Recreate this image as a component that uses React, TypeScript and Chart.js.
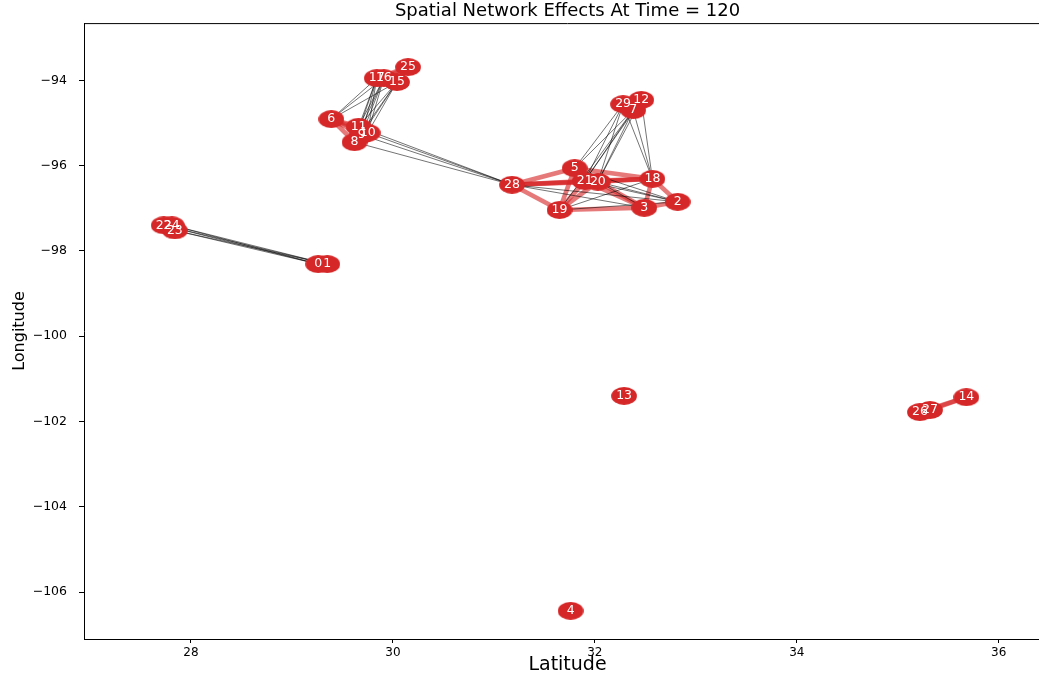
import React, { useEffect, useRef } from "react";
import { Chart, registerables } from "chart.js";

Chart.register(...registerables);

// ---- data ----
const nodeIds = [
  0, 1, 2, 3, 4, 5, 6, 7, 8, 9, 10, 11, 12, 13, 14,
  15, 16, 17, 18, 19, 20, 21, 22, 23, 24, 25, 26, 27, 28, 29,
];
// latitude (x axis)
const nodeLat = [
  29.26, 29.35, 32.82, 32.49, 31.76, 31.8, 29.39, 32.38, 29.62, 29.69,
  29.75, 29.66, 32.46, 32.29, 35.68, 30.04, 29.91, 29.84, 32.57, 31.65,
  32.03, 31.9, 27.73, 27.84, 27.81, 30.15, 35.22, 35.32, 31.18, 32.28,
];
// longitude (y axis)
const nodeLon = [
  -98.31, -98.31, -96.85, -96.99, -106.44, -96.06, -94.91, -94.7, -95.45, -95.28,
  -95.23, -95.09, -94.46, -101.4, -101.43, -94.04, -93.95, -93.95, -96.31, -97.04,
  -96.38, -96.36, -97.4, -97.52, -97.4, -93.69, -101.78, -101.73, -96.45, -94.56,
];

// strong (red) links
const redEdges: [number, number][] = [
  [6, 11], [6, 8], [6, 9], [6, 10], [11, 8], [11, 9], [11, 10], [8, 9], [8, 10], [9, 10],
  [17, 16], [17, 15], [16, 15], [15, 25], [16, 25], [17, 25],
  [28, 5], [28, 21], [28, 20], [28, 18], [28, 19],
  [5, 21], [5, 20], [5, 18], [21, 20], [21, 18], [20, 18],
  [19, 21], [19, 20], [19, 5], [19, 3], [20, 3], [21, 3],
  [18, 3], [18, 2], [3, 2],
  [29, 7], [29, 12], [7, 12],
  [22, 24], [22, 23], [24, 23], [0, 1],
  [26, 27], [27, 14], [26, 14],
];

// weak (grey) links
const greyEdges: [number, number][] = [
  [6, 17], [6, 16], [6, 15],
  [11, 17], [11, 16], [11, 15], [10, 17], [10, 16], [10, 15],
  [9, 17], [9, 16], [9, 15], [8, 17], [8, 16], [8, 15],
  [11, 28], [10, 28], [9, 28], [8, 28],
  [29, 5], [7, 5], [29, 21], [7, 21], [12, 21], [29, 20], [7, 20], [12, 20],
  [7, 19], [29, 18], [7, 18], [12, 18],
  [28, 3], [28, 2], [19, 18], [19, 2], [21, 2], [20, 2], [5, 3], [5, 2],
  [22, 0], [22, 1], [24, 0], [24, 1], [23, 0], [23, 1],
];

const xTickValues = [28, 30, 32, 34, 36];
const yTickValues = [-94, -96, -98, -100, -102, -104, -106];

const titleText = "Spatial Network Effects At Time = 120";
const xLabel = "Latitude";
const yLabel = "Longitude";

const NODE_COLOR = "#d62728";
const FONT = "'DejaVu Sans', 'Noto Sans', sans-serif";
const VIEW_W = 1039;
const CANVAS_W = 1052;
const CANVAS_H = 678;

export default function App() {
  const ref = useRef<HTMLCanvasElement | null>(null);

  useEffect(() => {
    const canvas = ref.current;
    if (!canvas) return;

    const ell = document.createElement("canvas");
    ell.width = 26;
    ell.height = 18;
    const ec = ell.getContext("2d")!;
    ec.fillStyle = NODE_COLOR;
    ec.beginPath();
    ec.ellipse(13, 9, 12.9, 8.9, 0, 0, Math.PI * 2);
    ec.fill();

    const pt = (i: number) => ({ x: nodeLat[i], y: nodeLon[i] });

    const datasets: any[] = [];
    datasets.push({
      label: "nodes",
      data: nodeIds.map(pt),
      pointStyle: ell,
      pointRadius: 12,
      order: 0,
    });
    greyEdges.forEach(([a, b]) =>
      datasets.push({
        label: "g",
        data: [pt(a), pt(b)],
        showLine: true,
        borderColor: "rgba(0,0,0,0.55)",
        borderWidth: 1,
        pointRadius: 0,
        order: 1,
      })
    );
    redEdges.forEach(([a, b]) =>
      datasets.push({
        label: "r",
        data: [pt(a), pt(b)],
        showLine: true,
        borderColor: "rgba(214,39,40,0.62)",
        borderWidth: 4.6,
        pointRadius: 0,
        order: 2,
      })
    );

    const pxPerX = 100.96;
    const pxPerY = 42.65;
    const left = 84, right = 1051, bottom = 639;
    const top = 23.1;
    const xMin = 28 - (191 - left) / pxPerX;
    const xMax = 28 + (right - 191) / pxPerX;
    const yMax = -94 + (80.3 - top) / pxPerY;
    const yMin = -94 - (bottom - 80.3) / pxPerY;

    const fmt = (v: number) => (v < 0 ? "\u2212" + Math.abs(v) : String(v));

    const labelPlugin = {
      id: "nodeLabels",
      afterDatasetsDraw(chart: any) {
        const { ctx, scales } = chart;
        ctx.save();
        ctx.fillStyle = "#ffffff";
        ctx.font = "12.5px " + FONT;
        ctx.textAlign = "center";
        ctx.textBaseline = "middle";
        nodeIds.forEach((id, i) => {
          const x = scales.x.getPixelForValue(nodeLat[i]);
          const y = scales.y.getPixelForValue(nodeLon[i]);
          ctx.fillText(String(id), x, y);
        });
        ctx.restore();
      },
      afterDraw(chart: any) {
        const { ctx, chartArea } = chart;
        ctx.save();
        ctx.strokeStyle = "#000";
        ctx.lineWidth = 1;
        ctx.beginPath();
        ctx.moveTo(chartArea.left, chartArea.top + 0.5);
        ctx.lineTo(chartArea.right, chartArea.top + 0.5);
        ctx.stroke();
        ctx.restore();
      },
    };

    const chart = new Chart(canvas, {
      type: "scatter",
      data: { datasets },
      plugins: [labelPlugin],
      options: {
        animation: false,
        responsive: false,
        maintainAspectRatio: false,
        events: [],
        layout: {
          autoPadding: false,
          padding: { left: 0, right: CANVAS_W - right, top: 0, bottom: 0 },
        },
        plugins: {
          legend: { display: false },
          tooltip: { enabled: false },
          title: {
            display: true,
            text: titleText,
            fullSize: false,
            color: "#000",
            font: { family: FONT, size: 18, weight: "normal" },
            padding: { top: 1, bottom: 0.5 },
          },
        },
        scales: {
          x: {
            type: "linear",
            min: xMin,
            max: xMax,
            afterFit: (s: any) => {
              s.height = CANVAS_H - bottom;
              s.paddingLeft = 0;
              s.paddingRight = 0;
            },
            afterBuildTicks: (s: any) => {
              s.ticks = xTickValues.map((v) => ({ value: v }));
            },
            grid: {
              display: true,
              drawOnChartArea: false,
              drawTicks: true,
              tickLength: 4,
              color: "#000",
            },
            border: { display: true, color: "#000", width: 1 },
            ticks: {
              color: "#000",
              padding: 3,
              font: { family: FONT, size: 12 },
              callback: (v: any) => fmt(Number(v)),
            },
            title: {
              display: true,
              text: xLabel,
              color: "#000",
              font: { family: FONT, size: 19 },
              padding: { top: 0, bottom: 2 },
            },
          },
          y: {
            type: "linear",
            min: yMin,
            max: yMax,
            afterFit: (s: any) => {
              s.width = left;
              s.paddingTop = 0;
              s.paddingBottom = 0;
            },
            afterBuildTicks: (s: any) => {
              s.ticks = yTickValues.map((v) => ({ value: v }));
            },
            grid: {
              display: true,
              drawOnChartArea: false,
              drawTicks: true,
              tickLength: 5,
              color: "#000",
            },
            border: { display: true, color: "#000", width: 1 },
            ticks: {
              color: "#000",
              padding: 12,
              font: { family: FONT, size: 12.5 },
              callback: (v: any) => fmt(Number(v)),
            },
            title: {
              display: true,
              text: yLabel,
              color: "#000",
              font: { family: FONT, size: 16 },
              padding: { top: 10, bottom: 0 },
            },
          },
        },
      },
    });

    return () => chart.destroy();
  }, []);

  return (
    <div
      style={{
        position: "fixed",
        left: 0,
        top: 0,
        width: VIEW_W,
        height: CANVAS_H,
        overflow: "hidden",
        background: "#fff",
      }}
    >
      <div style={{ position: "absolute", left: 0, top: 0, width: CANVAS_W, height: CANVAS_H }}>
        <canvas
          ref={ref}
          width={CANVAS_W}
          height={CANVAS_H}
          style={{ display: "block", width: CANVAS_W, height: CANVAS_H }}
        />
      </div>
    </div>
  );
}
